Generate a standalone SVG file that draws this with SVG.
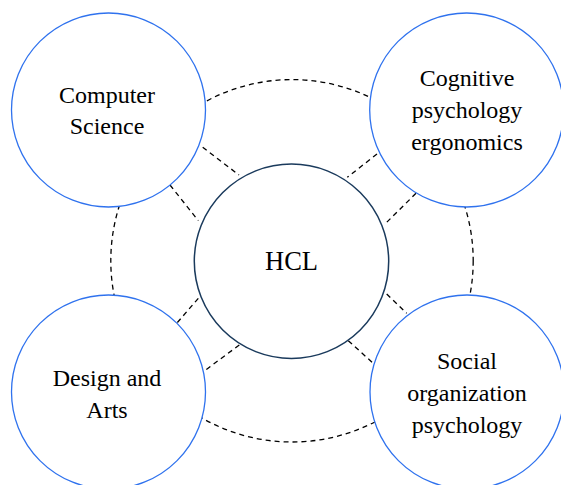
<svg xmlns="http://www.w3.org/2000/svg" width="561" height="485" viewBox="0 0 561 485">
<style>
.dash{fill:none;stroke:#000;stroke-width:1.3;stroke-dasharray:5 4}
.outer{fill:#fff;stroke:#2f72ee;stroke-width:1.3}
.core{fill:#fff;stroke:#1a3a5c;stroke-width:1.5}
text{font-family:'Liberation Serif','Times New Roman',serif;font-size:24px;fill:#000;text-anchor:middle}
</style>
<rect width="561" height="485" fill="#fff"/>
<g id="connectors">
<circle class="dash" cx="292" cy="260.8" r="181.2"/>
<line class="dash" x1="202.7" y1="147.3" x2="239" y2="175"/>
<line class="dash" x1="170" y1="185" x2="198.3" y2="220.7"/>
<line class="dash" x1="377" y1="154" x2="347.3" y2="177.3"/>
<line class="dash" x1="416" y1="193.3" x2="384" y2="225"/>
<line class="dash" x1="386.7" y1="294" x2="406.7" y2="313.3"/>
<line class="dash" x1="348.3" y1="340.7" x2="374" y2="364"/>
<line class="dash" x1="198.3" y1="298.3" x2="176.7" y2="323.3"/>
<line class="dash" x1="239.3" y1="345" x2="203.3" y2="371.7"/>
</g>
<g id="computer-science">
<circle class="outer" cx="108.5" cy="110" r="97"/>
<text x="107" y="102.7">Computer</text>
<text x="107" y="134">Science</text>
</g>
<g id="cognitive">
<circle class="outer" cx="466.7" cy="110" r="97"/>
<text x="467" y="86">Cognitive</text>
<text x="467" y="118">psychology</text>
<text x="467" y="150">ergonomics</text>
</g>
<g id="design-arts">
<circle class="outer" cx="108.5" cy="392" r="97"/>
<text x="107" y="386">Design and</text>
<text x="107" y="418">Arts</text>
</g>
<g id="social">
<circle class="outer" cx="467" cy="392" r="97"/>
<text x="467" y="369">Social</text>
<text x="467" y="401">organization</text>
<text x="467" y="433">psychology</text>
</g>
<g id="hcl">
<circle class="core" cx="291.5" cy="261.2" r="97.2"/>
<text x="291.5" y="270" style="font-size:26.5px">HCL</text>
</g>
</svg>
